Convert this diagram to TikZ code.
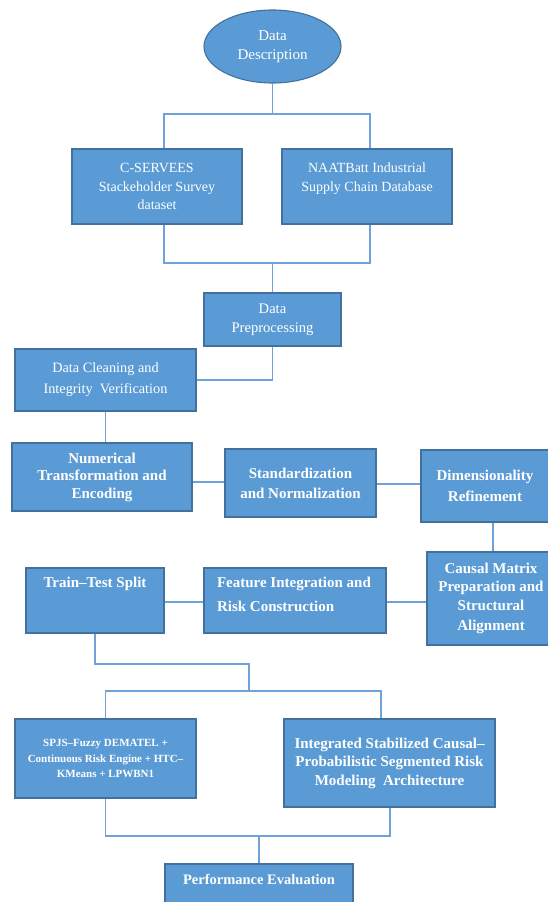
\documentclass[tikz,border=0pt]{standalone}
\usepackage{fontspec}
\setmainfont{Liberation Serif}
\usetikzlibrary{shapes.geometric}
\definecolor{boxfill}{HTML}{5B9BD5}
\definecolor{boxline}{HTML}{41719C}
\definecolor{connline}{RGB}{112,162,218}
\tikzset{
  box/.style={rectangle, draw=boxline, fill=boxfill, line width=1.1pt, text=white, align=center, inner sep=0pt},
  oval/.style={ellipse, draw=boxline, fill=boxfill, line width=1.1pt, text=white, align=center, inner sep=0pt},
  conn/.style={draw=connline, line width=1.3pt},
  reg/.style={font={\fontsize{14}{18.5}\selectfont}},
  bld/.style={font={\fontsize{15}{18.5}\selectfont\bfseries}}
}
\begin{document}
\begin{tikzpicture}[x=1pt,y=-1pt]
\useasboundingbox (0,0) rectangle (547,902);
% nodes
\node[oval, minimum width=137, minimum height=73, font={\fontsize{15}{19}\selectfont}] (dd) at (272.5,46.5) {Data\\Description};
\node[box, reg, minimum width=170, minimum height=75] (cs) at (157,186.5) {C-SERVEES\\Stackeholder Survey\\dataset};
\node[box, reg, minimum width=170, minimum height=75] (nb) at (367,186.5) {\parbox[c][75pt][t]{170pt}{\vspace*{14pt}\centering NAATBatt Industrial\\Supply Chain Database}};
\node[box, minimum width=137, minimum height=53, font={\fontsize{14.6}{19}\selectfont}] (dp) at (272.5,319.5) {Data\\Preprocessing};
\node[box, minimum width=181, minimum height=62, font={\fontsize{14.3}{21}\selectfont}] (dc) at (105.5,380) {Data Cleaning and\\Integrity\ \ Verification};
\node[box, minimum width=180, minimum height=68, font={\fontsize{15}{17.5}\selectfont\bfseries}] (num) at (102,477) {Numerical\\Transformation and\\Encoding};
\node[box, minimum width=151, minimum height=68, font={\fontsize{15}{20}\selectfont\bfseries}] (std) at (300.5,483) {Standardization\\and Normalization};
\node[box, minimum width=128, minimum height=72, font={\fontsize{15}{21}\selectfont\bfseries}] (dim) at (485,486) {Dimensionality\\Refinement};
\node[box, minimum width=128, minimum height=93, font={\fontsize{15}{18.7}\selectfont\bfseries}] (cm) at (491,598.5) {Causal Matrix\\Preparation and\\Structural\\[1.5pt]Alignment};
\node[box, bld, minimum width=138, minimum height=65] (tt) at (95,600.5) {\parbox[c][65pt][t]{138pt}{\vspace*{9.5pt}\centering Train--Test Split}};
\node[box, minimum width=182, minimum height=65, font={\fontsize{15}{24}\selectfont\bfseries}] (fe) at (295,600.5) {\parbox[c][65pt][t]{182pt}{\vspace*{9.5pt}\raggedright\leftskip=13pt Feature Integration and\\Risk Construction}};
\node[box, minimum width=181, minimum height=79, font={\fontsize{11}{15.5}\selectfont\bfseries}] (sp) at (105.5,758.5) {SPJS--Fuzzy DEMATEL +\\Continuous Risk Engine + HTC--\\KMeans + LPWBN1};
\node[box, minimum width=211, minimum height=88, font={\fontsize{15}{18.5}\selectfont\bfseries}] (ia) at (389.5,763) {Integrated Stabilized Causal--\\Probabilistic Segmented Risk\\Modeling\ \ Architecture};
\node[box, minimum width=188, minimum height=60, font={\fontsize{14.5}{18}\selectfont\bfseries}] (pe) at (259,894) {\parbox[c][60pt][t]{188pt}{\vspace*{10pt}\centering Performance Evaluation}};
% junction coordinates
\coordinate (a1) at (164,114);
\coordinate (a2) at (370,114);
\coordinate (b1) at (164,263);
\coordinate (b2) at (370,263);
\coordinate (e1) at (493,500);
\coordinate (c1) at (249,664);
\coordinate (c2) at (249,691);
\coordinate (c3) at (381,691);
\coordinate (d1) at (390,836);
% connectors
\draw[conn] (dd.south) -- (dd.south |- a1);
\draw[conn] (cs.north -| a1) -- (a1) -- (a2) -- (nb.north -| a2);
\draw[conn] (cs.south -| b1) -- (b1) -- (b2) -- (nb.south -| b2);
\draw[conn] (dp.north) -- (dp.north |- b1);
\draw[conn] (dp.south) |- (dc.east);
\draw[conn] (dc.south) -- (dc.south |- num.north);
\draw[conn] (num.east |- 0,482) -- (std.west |- 0,482);
\draw[conn] (std.east |- 0,484) -- (dim.west |- 0,484);
\draw[conn] (dim.south -| e1) -- (cm.north -| e1);
\draw[conn] (fe.east |- 0,602) -- (cm.west |- 0,602);
\draw[conn] (tt.east |- 0,602) -- (fe.west |- 0,602);
\draw[conn] (tt.south) |- (c1) -- (c2);
\draw[conn] (sp.north) |- (c2) -- (c3) -- (ia.north -| c3);
\draw[conn] (sp.south) |- (d1) -- (ia.south -| d1);
\draw[conn] (pe.north |- d1) -- (pe.north);
\end{tikzpicture}
\end{document}
